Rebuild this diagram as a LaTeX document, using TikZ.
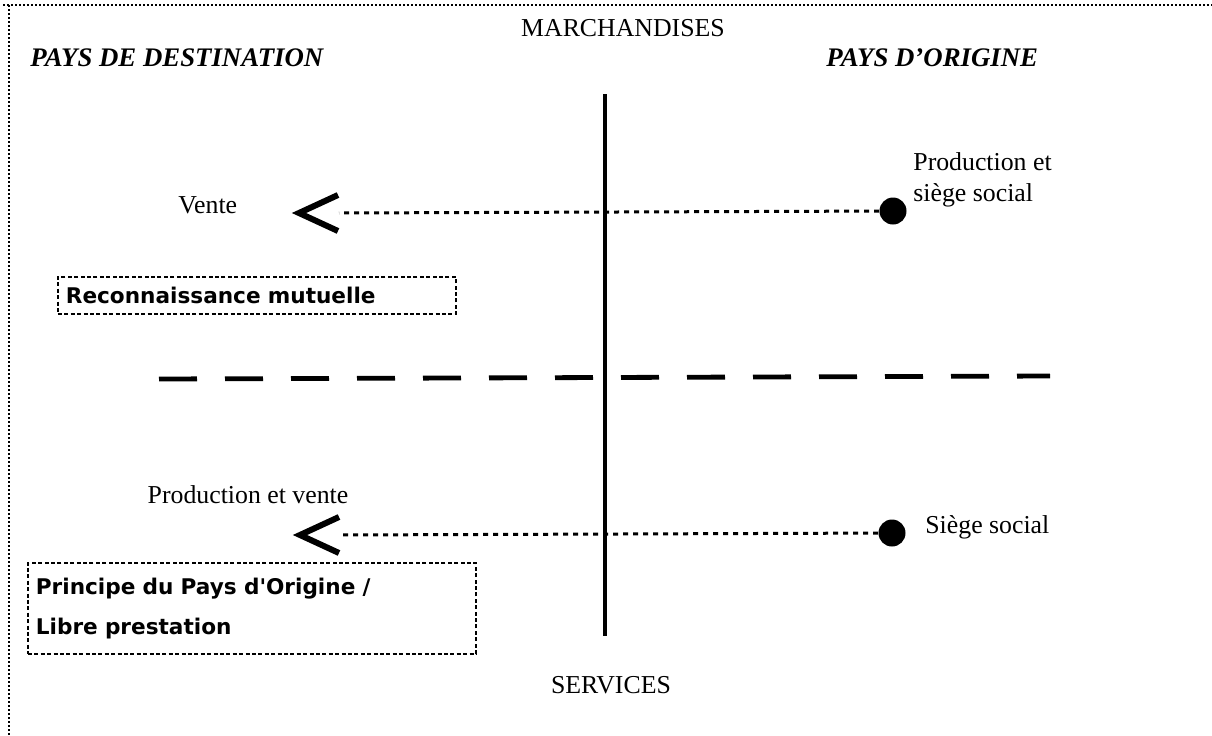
\documentclass[tikz,border=0pt]{standalone}
\usepackage{fontspec}
\setmainfont{Liberation Serif}
\newfontfamily\boxfont{DejaVu Sans}
\usetikzlibrary{calc,positioning}

\begin{document}
\begin{tikzpicture}[x=0.5pt, y=-0.5pt]
  \tikzset{txt/.style = {font=\fontsize{12.9}{15.5}\selectfont, inner sep=0pt},
    paystxt/.style = {font=\fontsize{13.4}{16}\selectfont\bfseries\itshape, inner sep=0pt},
    principe/.style = {draw, line width=0.9pt, dash pattern=on 2pt off 1.2pt,
      font=\boxfont\bfseries\fontsize{10.8}{20}\selectfont, align=left,
      inner xsep=4pt, inner ysep=0pt, anchor=north west},
    frame/.style = {line width=1.1pt, dash pattern=on 1pt off 1pt},
    flow/.style = {line width=1.5pt, dash pattern=on 2.5pt off 2.5pt},
    chevron/.style = {line width=3pt},
    siege/.style = {circle, fill, inner sep=0pt, minimum size=13.5pt}}
  \useasboundingbox (0,0) rectangle (1212,735);
  \draw[frame] (3,5) -- (1212,5);
  \draw[frame] (9,5) -- (9,735);
  \node[txt] (march) at (623,28) {MARCHANDISES};
  \node[txt] (serv) at (611,685) {SERVICES};
  \node[paystxt, anchor=west] (dest) at (30,58) {PAYS DE DESTINATION};
  \node[paystxt, anchor=west] (orig) at (826,58) {PAYS D'ORIGINE};
  \coordinate (haut) at (605,94);
  \coordinate (bas) at (605,636);
  \draw[line width=1.8pt] (haut) -- (bas);
  \coordinate (gauche) at (159,379);
  \coordinate (droite) at (1050,376);
  \draw[line width=2.4pt, dash pattern=on 19pt off 14pt] (gauche) -- (droite);
  \node[siege] (dotA) at (893,211) {};
  \coordinate (tipA) at (299,213);
  \draw[flow] (dotA) -- ($(tipA)+(40,0)$);
  \draw[chevron] ($(tipA)+(39,-18)$) -- (tipA) -- ($(tipA)+(39,18)$);
  \node[txt, anchor=west] (vente) at (178,205) {Vente};
  \node[txt, anchor=west, align=left] (prodA) at (913,180) {Production et\\si\`ege social};
  \node[principe, minimum width=199pt, minimum height=18.5pt, text width=191pt] (recon) at (57,276) {Reconnaissance mutuelle};
  \node[siege] (dotB) at (892,533) {};
  \coordinate (tipB) at (300,535);
  \draw[flow] (dotB) -- ($(tipB)+(40,0)$);
  \draw[chevron] ($(tipB)+(39,-18)$) -- (tipB) -- ($(tipB)+(39,18)$);
  \node[txt] (prodB) at (248,495) {Production et vente};
  \node[txt, anchor=west] (siegeB) at (925,527) {Si\`ege social};
  \node[principe, minimum width=224pt, minimum height=45.5pt, text width=216pt] (ppo) at (27,562) {Principe du Pays d'Origine /\\Libre prestation};
\end{tikzpicture}
\end{document}
